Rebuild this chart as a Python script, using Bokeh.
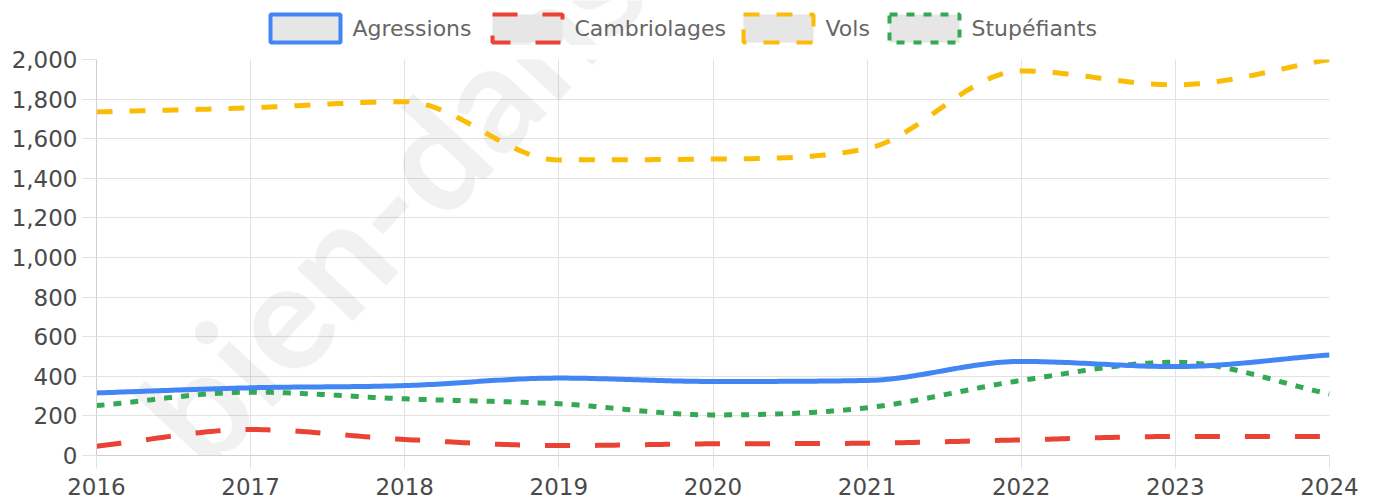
import numpy as np
from bokeh.plotting import figure
from bokeh.layouts import column
from bokeh.core.properties import value
from bokeh.models import Range1d, FixedTicker, Label, NumeralTickFormatter
from bokeh.embed import file_html
from bokeh.resources import INLINE

years = [2016, 2017, 2018, 2019, 2020, 2021, 2022, 2023, 2024]
agressions = [316, 342, 353, 391, 374, 379, 475, 449, 508]
cambriolages = [47, 131, 81, 50, 59, 62, 79, 96, 96]
vols = [1735, 1756, 1787, 1493, 1497, 1550, 1942, 1872, 2000]
stupefiants = [252, 320, 286, 261, 205, 241, 379, 471, 311]
y_ticks = list(range(0, 2001, 200))
names = ["Agressions", "Cambriolages", "Vols", "Stupéfiants"]
colors = ["#4285F4", "#EA4335", "#FBBC05", "#34A853"]
dashes = ["solid", "25 25", "16 17", "8 9"]
values = [agressions, cambriolages, vols, stupefiants]

W, HTOT, HLEG = 1379, 502, 45
H = HTOT - HLEG
ML, MR, MT, MB = 96, 50, 14, 47
XMIN, XMAX, YMIN, YMAX = 2016, 2024, 0, 2000
FW, FH = W - ML - MR, H - MT - MB
sx = FW / (XMAX - XMIN)
sy = FH / (YMAX - YMIN)
FONT = "DejaVu Sans"

# watermark anchor (page pixels) and style
WM_X, WM_Y, WM_ANGLE = 231, 498, 0.82
WM = dict(text="bien-dans-ma-ville.fr", angle=WM_ANGLE, text_font="Lato",
          text_font_style="bold", text_font_size="150px", text_color="black",
          text_alpha=0.055)


def monotone(xs, ys, n=40):
    """Chart.js style monotone cubic interpolation (Fritsch-Carlson)."""
    x = np.asarray(xs, float)
    y = np.asarray(ys, float)
    m = len(x)
    dk = np.diff(y) / np.diff(x)
    mk = np.zeros(m)
    mk[0] = dk[0]
    mk[-1] = dk[-1]
    for i in range(1, m - 1):
        mk[i] = 0.0 if np.sign(dk[i - 1]) != np.sign(dk[i]) else (dk[i - 1] + dk[i]) / 2
    for i in range(m - 1):
        if abs(dk[i]) < 1e-9:
            mk[i] = mk[i + 1] = 0.0
            continue
        a = mk[i] / dk[i]
        b = mk[i + 1] / dk[i]
        if a < 0 or b < 0:
            continue
        sq = a * a + b * b
        if sq > 9:
            tau = 3 / np.sqrt(sq)
            mk[i] = a * tau * dk[i]
            mk[i + 1] = b * tau * dk[i]
    tt = np.linspace(0, 1, n)
    ox, oy = [], []
    for i in range(m - 1):
        h = x[i + 1] - x[i]
        p0 = np.array([x[i], y[i]])
        p3 = np.array([x[i + 1], y[i + 1]])
        p1 = np.array([x[i] + h / 3, y[i] + h / 3 * mk[i]])
        p2 = np.array([x[i + 1] - h / 3, y[i + 1] - h / 3 * mk[i + 1]])
        seg = ((1 - tt) ** 3)[:, None] * p0 + (3 * (1 - tt) ** 2 * tt)[:, None] * p1 \
            + (3 * (1 - tt) * tt ** 2)[:, None] * p2 + (tt ** 3)[:, None] * p3
        if i > 0:
            seg = seg[1:]
        ox.extend(seg[:, 0])
        oy.extend(seg[:, 1])
    return ox, oy


# ---------------- legend strip ----------------
leg = figure(width=W, height=HLEG, output_backend="svg", toolbar_location=None,
             x_range=Range1d(ML, W - MR), y_range=Range1d(HTOT - HLEG, HTOT),
             min_border_left=ML, min_border_right=MR, min_border_top=0, min_border_bottom=0,
             x_axis_location=None, y_axis_location=None)
leg.outline_line_color = None
leg.grid.visible = False
leg.add_layout(Label(x=WM_X, y=HTOT - WM_Y, level="underlay", **WM))

box_left = [270, 492, 743, 889]
BW, BTOP, BBOT = 70, 14, 42
for bl, nm, col, dsh in zip(box_left, names, colors, dashes):
    leg.quad(left=[bl], right=[bl + BW], top=[HTOT - BTOP], bottom=[HTOT - BBOT],
             fill_color="#e6e6e6", line_color=col, line_width=4, line_dash=dsh)
    leg.text(x=[bl + BW + 12], y=[HTOT - (BTOP + BBOT) / 2], text=[nm],
             text_font=value(FONT), text_font_size="22px", text_color="#666666",
             text_baseline="middle", text_align="left")

# ---------------- main chart ----------------
p = figure(width=W, height=H, output_backend="svg", toolbar_location=None,
           x_range=Range1d(XMIN, XMAX), y_range=Range1d(YMIN, YMAX),
           min_border_left=ML, min_border_right=MR, min_border_top=MT, min_border_bottom=MB)
p.outline_line_color = None
p.background_fill_color = "white"
p.border_fill_color = "white"

for ax in (p.xaxis[0], p.yaxis[0]):
    ax.axis_line_color = "#d0d0d0"
    ax.axis_line_width = 1
    ax.major_tick_line_color = "#e2e2e2"
    ax.minor_tick_line_color = None
    ax.major_tick_in = 0
    ax.major_label_text_font = FONT
    ax.major_label_text_font_size = "23px"
    ax.major_label_text_color = "#4a4a4a"
p.xaxis.ticker = FixedTicker(ticks=years)
p.xaxis.major_tick_out = 13
p.xaxis.major_label_standoff = 9
p.yaxis.ticker = FixedTicker(ticks=y_ticks)
p.yaxis.formatter = NumeralTickFormatter(format="0,0")
p.yaxis.major_tick_out = 14
p.yaxis.major_label_standoff = 5
p.xgrid.grid_line_color = "#e2e2e2"
p.ygrid.grid_line_color = "#e2e2e2"

p.add_layout(Label(x=XMIN + (WM_X - ML) / sx, y=(HTOT - MB - WM_Y) / sy,
                   level="underlay", **WM))

# lines (first dataset drawn last so it is on top)
for nm, vals, col, dsh in reversed(list(zip(names, values, colors, dashes))):
    xs, ys = monotone(years, vals)
    p.line(xs, ys, line_color=col, line_width=5, line_dash=dsh, line_join="round")

layout = column(leg, p, spacing=0)
open("out.html", "w").write(file_html(layout, INLINE))
